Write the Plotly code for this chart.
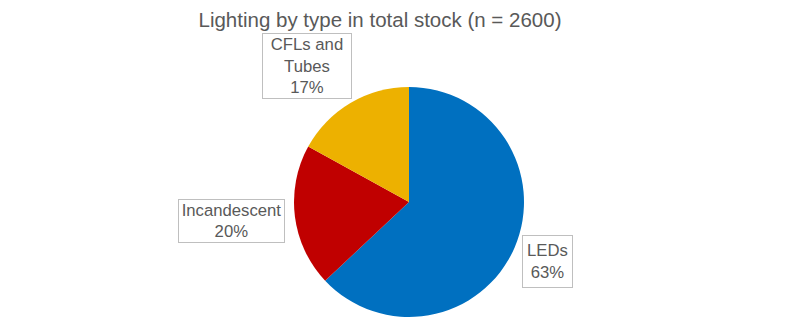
import plotly.graph_objects as go

# Lighting stock shares by type
labels = ["LEDs", "Incandescent", "CFLs and Tubes"]
label_text = ["LEDs", "Incandescent", "CFLs and<br>Tubes"]
values = [63, 20, 17]
colors = ["#0070C0", "#C00000", "#EDB100"]

W, H = 800, 327
text_color = "#595959"

fig = go.Figure(
    go.Pie(
        labels=labels,
        values=values,
        sort=False,
        direction="clockwise",
        rotation=0,
        marker=dict(colors=colors, line=dict(width=0)),
        textinfo="none",
        hoverinfo="label+percent",
        showlegend=False,
        domain=dict(x=[(409 - 115) / W, (409 + 115) / W],
                    y=[(H - 317) / H, (H - 87) / H]),
    )
)

# Boxed data labels: (center x px, center y px, box width px, box height px)
label_boxes = [(547.5, 261.5, 51, 53), (231.5, 221, 107, 44), (307, 66, 90, 66)]
total = sum(values)
for txt, v, (cx, cy, bw, bh) in zip(label_text, values, label_boxes):
    fig.add_annotation(
        x=cx / W, y=1 - cy / H, xref="paper", yref="paper",
        xanchor="center", yanchor="middle",
        text=f"{txt}<br>{round(100 * v / total)}%",
        showarrow=False,
        font=dict(family="Liberation Sans, Arial, sans-serif", size=16.7, color=text_color),
        align="center",
        bgcolor="white", bordercolor="#BFBFBF", borderwidth=1, borderpad=0,
        width=bw - 2, height=bh - 2,
    )

fig.update_layout(
    width=W, height=H,
    margin=dict(l=0, r=0, t=0, b=0),
    paper_bgcolor="white", plot_bgcolor="white",
    title=dict(text="Lighting by type in total stock (n = 2600)",
               x=380 / W, xanchor="center", y=1 - 20 / H, yanchor="middle",
               font=dict(family="Liberation Sans, Arial, sans-serif", size=20.5, color=text_color)),
)

fig.write_html("out.html")
